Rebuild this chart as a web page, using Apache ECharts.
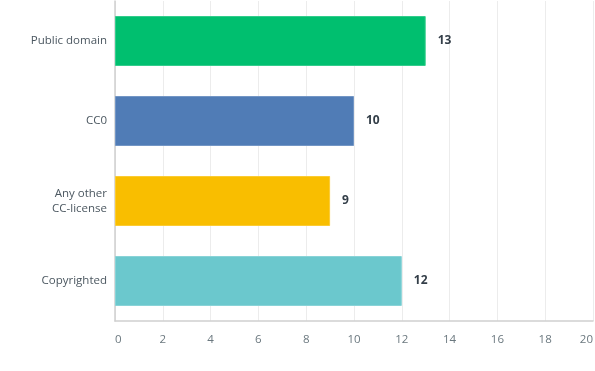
<!DOCTYPE html>
<html><head><meta charset="utf-8">
<script src="https://cdn.jsdelivr.net/npm/echarts@6/dist/echarts.min.js"></script>
<style>html,body{margin:0;padding:0;background:#fff}#c{width:595px;height:371px}</style>
</head><body><div id="c"></div>
<script>
const categories = ["Public domain", "CC0", "Any other\nCC-license", "Copyrighted"];
const values = [13, 10, 9, 12];
const colors = ["#00bf6f", "#507cb6", "#f9be00", "#6bc8cd"];
const borders = ["#33cc8c", "#7396c5", "#fbcb33", "#89d3d7"];
const xTicks = [0, 2, 4, 6, 8, 10, 12, 14, 16, 18, 20];

const chart = echarts.init(document.getElementById('c'), null, {renderer: 'canvas'});
chart.setOption({
  animation: false,
  textStyle: {fontFamily: "Open Sans"},
  grid: {left: 115, right: 2, top: 1, bottom: 50, containLabel: false, outerBoundsMode: 'none'},
  xAxis: {
    type: 'value', min: xTicks[0], max: xTicks[xTicks.length - 1], interval: 2,
    axisLine: {show: true, lineStyle: {color: '#cfcfcf', width: 1.5}}, axisTick: {show: false},
    splitLine: {show: true, lineStyle: {color: '#ececec', width: 1}},
    axisLabel: {color: '#6b787f', fontSize: 11.5, margin: 13, alignMinLabel: 'left', alignMaxLabel: 'right'}
  },
  yAxis: {
    type: 'category', data: categories, inverse: true,
    axisLine: {show: true, lineStyle: {color: '#cfcfcf', width: 1.5}},
    axisTick: {show: false},
    axisLabel: {color: '#4b5760', fontSize: 11.5, margin: 8, lineHeight: 15, align: 'right'}
  },
  series: [{
    type: 'bar',
    barCategoryGap: '37.5%',
    data: values.map((v, i) => ({value: v, itemStyle: {color: colors[i], borderColor: borders[i], borderWidth: 1}})),
    label: {show: true, position: 'right', distance: 12, color: '#333e48', fontSize: 12, fontWeight: 'bold'}
  }]
});
</script></body></html>
